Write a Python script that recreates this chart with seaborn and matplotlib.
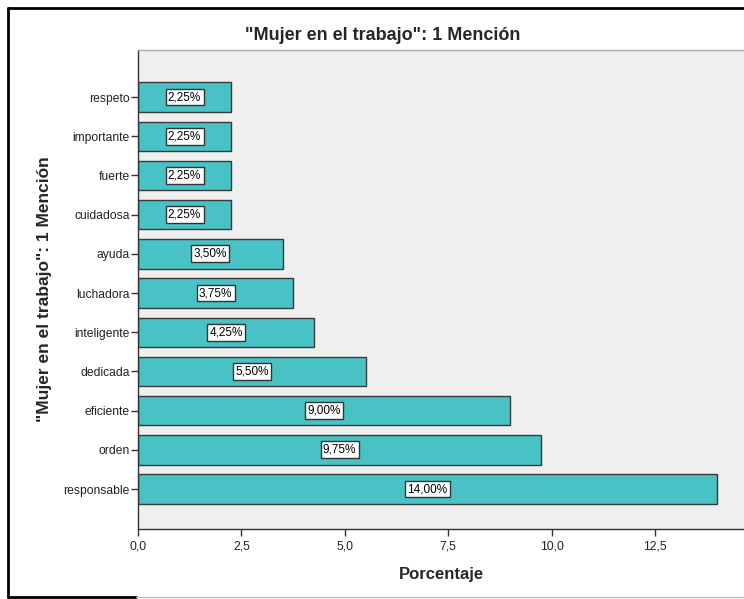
import matplotlib
matplotlib.use("Agg")
import matplotlib.pyplot as plt
import seaborn as sns
import pandas as pd
from matplotlib.ticker import FuncFormatter, MultipleLocator
from matplotlib.lines import Line2D

categories = ["respeto", "importante", "fuerte", "cuidadosa", "ayuda", "luchadora",
              "inteligente", "dedicada", "eficiente", "orden", "responsable"]
values = [2.25, 2.25, 2.25, 2.25, 3.50, 3.75, 4.25, 5.50, 9.00, 9.75, 14.00]

title = '"Mujer en el trabajo": 1 Mención'
xlabel = "Porcentaje"
ylabel = '"Mujer en el trabajo": 1 Mención'

sns.set_theme(style="white")
plt.rcParams['font.family'] = ['Liberation Sans', 'DejaVu Sans']

df = pd.DataFrame({"cat": categories, "val": values})

W, H = 744, 599
fig = plt.figure(figsize=(W / 100, H / 100), dpi=100)
ax = fig.add_axes([138 / W, (H - 529) / H, (W - 138) / W, (529 - 50) / H])
ax.set_facecolor("#EFEFEF")

sns.barplot(data=df, x="val", y="cat", orient="h", color="#48C2C5",
            saturation=1, edgecolor="#3A3A3A", linewidth=1.0, width=0.75, ax=ax)

for i, v in enumerate(values):
    ax.text(v / 2, i, f"{v:.2f}%".replace(".", ","), ha="center", va="center",
            fontsize=8.5, color="black",
            bbox=dict(boxstyle="square,pad=0.2", facecolor="white",
                      edgecolor="#333333", linewidth=1.0))

ax.set_xlim(0, 14.65)
ax.set_ylim(11.02, -1.2)
ax.xaxis.set_major_locator(MultipleLocator(2.5))
ax.xaxis.set_major_formatter(FuncFormatter(lambda x, p: f"{x:.1f}".replace(".", ",")))

ax.tick_params(axis="both", which="major", direction="out", length=5, width=1,
               color="#333333", labelsize=8.7, labelcolor="#222222", pad=1,
               bottom=True, left=True)
ax.tick_params(axis="x", pad=3)

for s in ["left", "bottom"]:
    ax.spines[s].set_color("#333333")
    ax.spines[s].set_linewidth(1.0)
ax.spines["top"].set_color("#AAAAAA")
ax.spines["top"].set_linewidth(1.0)
ax.spines["right"].set_visible(False)

ax.set_xlabel(xlabel, fontsize=12, fontweight="bold", labelpad=11)
ax.set_ylabel(ylabel, fontsize=12.5, fontweight="bold", labelpad=8)
fig.text(383 / W, 1 - 35 / H, title, ha="center", va="center", fontsize=13,
         fontweight="bold")

# outer frame
fig.add_artist(Line2D([8 / W, 8 / W], [1 - 8 / H, 1 - 597 / H], color="black",
                      lw=2, transform=fig.transFigure))
fig.add_artist(Line2D([8 / W, 1.0], [1 - 8 / H, 1 - 8 / H], color="black",
                      lw=2, transform=fig.transFigure))
fig.add_artist(Line2D([8 / W, 136 / W], [1 - 597 / H, 1 - 597 / H], color="black",
                      lw=2, transform=fig.transFigure))
fig.add_artist(Line2D([136 / W, 1.0], [1 - 597 / H, 1 - 597 / H], color="#BBBBBB",
                      lw=1, transform=fig.transFigure))

fig.savefig("out.png", dpi=100)
